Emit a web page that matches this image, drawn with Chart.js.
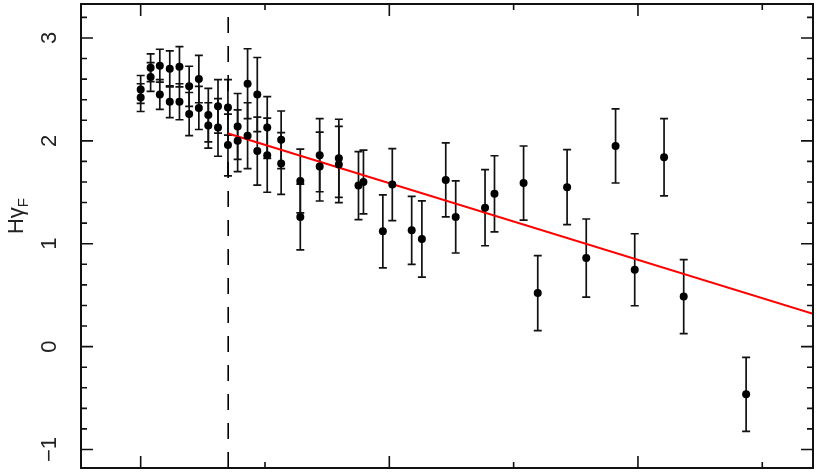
<!DOCTYPE html>
<html>
<head>
<meta charset="utf-8">
<script src="https://cdn.jsdelivr.net/npm/chart.js@4"></script>
<style>
  body { margin: 0; background: #fff; }
  #wrap { width: 817px; height: 472px; }
</style>
</head>
<body>
<div id="wrap"><canvas id="c" width="817" height="472"></canvas></div>
<script>
// measured points (x in arbitrary units, y = H gamma_F)
const xPos = [0, 0, 0.40, 0.40, 0.77, 0.77, 1.17, 1.17, 1.56, 1.56, 1.95, 1.95, 2.34, 2.34, 2.72, 2.72,
  3.11, 3.11, 3.51, 3.51, 3.90, 3.90, 4.30, 4.30, 4.69, 4.69, 5.09, 5.09, 5.65, 5.65, 6.42, 6.42,
  7.20, 7.20, 7.97, 7.97, 8.76, 8.96, 9.74, 10.12, 10.90, 11.31, 12.27, 12.67, 13.85, 14.23,
  15.40, 15.97, 17.15, 17.92, 19.10, 19.87, 21.05, 21.84, 24.35];
const yVal = [2.50, 2.42, 2.71, 2.62, 2.73, 2.45, 2.70, 2.38, 2.72, 2.38, 2.53, 2.26, 2.60, 2.32, 2.25, 2.15,
  2.335, 2.13, 2.325, 1.96, 2.14, 2.00, 2.555, 2.05, 2.45, 1.90, 2.13, 1.86, 2.01, 1.78, 1.61, 1.26,
  1.86, 1.75, 1.83, 1.77, 1.565, 1.60, 1.12, 1.575, 1.13, 1.046, 1.62, 1.26, 1.35, 1.485,
  1.59, 0.52, 1.55, 0.86, 1.95, 0.747, 1.84, 0.486, -0.464];
const yErr = [0.135, 0.135, 0.135, 0.14, 0.16, 0.145, 0.175, 0.155, 0.195, 0.175, 0.195, 0.21, 0.23, 0.21, 0.26, 0.22,
  0.26, 0.28, 0.27, 0.30, 0.32, 0.30, 0.34, 0.32, 0.36, 0.33, 0.30, 0.36, 0.28, 0.30, 0.31, 0.32,
  0.355, 0.335, 0.38, 0.37, 0.33, 0.31, 0.355, 0.35, 0.33, 0.37, 0.36, 0.35, 0.37, 0.37,
  0.36, 0.365, 0.365, 0.38, 0.36, 0.35, 0.375, 0.36, 0.36];

// linear fit and the break
const breakX = 3.52;
const fitX = [3.52, 27.04];
const fitY = [2.071, 0.319];

const xRange = [-2.40, 27.04];
const yRange = [-1.18, 3.33];

const xMajorTicks = [0, 10, 20];
const xMinorTicks = [5, 15, 25];
const yMajorTicks = [-1, 0, 1, 2, 3];
const yMinorTicks = [-0.8, -0.6, -0.4, -0.2, 0.2, 0.4, 0.6, 0.8, 1.2, 1.4, 1.6, 1.8,
  2.2, 2.4, 2.6, 2.8, 3.2];
const yTickLabels = ['\u22121', '0', '1', '2', '3'];

const FONT = '"Liberation Sans", Arial, sans-serif';

const framePlugin = {
    id: 'frame',
    beforeDatasetsDraw(chart) {
        const ctx = chart.ctx;
        const x = chart.scales.x, y = chart.scales.y;
        // error bars
        ctx.save();
        ctx.strokeStyle = '#111';
        ctx.lineWidth = 1.7;
        for (let i = 0; i < xPos.length; i++) {
            const px = x.getPixelForValue(xPos[i]);
            const top = y.getPixelForValue(yVal[i] + yErr[i]);
            const bot = y.getPixelForValue(yVal[i] - yErr[i]);
            ctx.beginPath();
            ctx.moveTo(px, top); ctx.lineTo(px, bot);
            ctx.moveTo(px - 4, top); ctx.lineTo(px + 4, top);
            ctx.moveTo(px - 4, bot); ctx.lineTo(px + 4, bot);
            ctx.stroke();
        }
        ctx.restore();
    },
    afterDraw(chart) {
        const ctx = chart.ctx;
        const a = chart.chartArea;
        const x = chart.scales.x, y = chart.scales.y;
        ctx.save();
        ctx.strokeStyle = '#111';
        ctx.lineWidth = 2;
        ctx.strokeRect(a.left, a.top, a.right - a.left, a.bottom - a.top);

        ctx.lineWidth = 1.6;
        ctx.beginPath();
        const xt = (v, len) => {
            const p = x.getPixelForValue(v);
            ctx.moveTo(p, a.bottom); ctx.lineTo(p, a.bottom - len);
            ctx.moveTo(p, a.top); ctx.lineTo(p, a.top + len);
        };
        const yt = (v, len) => {
            const p = y.getPixelForValue(v);
            ctx.moveTo(a.left, p); ctx.lineTo(a.left + len, p);
            ctx.moveTo(a.right, p); ctx.lineTo(a.right - len, p);
        };
        xMajorTicks.forEach(v => xt(v, 12));
        xMinorTicks.forEach(v => xt(v, 6));
        yMajorTicks.forEach(v => yt(v, 12));
        yMinorTicks.forEach(v => yt(v, 6));
        ctx.stroke();

        // rotated y labels
        ctx.fillStyle = '#222';
        ctx.textAlign = 'center';
        ctx.textBaseline = 'middle';
        ctx.font = '22px ' + FONT;
        yMajorTicks.forEach((v, i) => {
            ctx.save();
            ctx.translate(50, y.getPixelForValue(v));
            ctx.rotate(-Math.PI / 2);
            ctx.fillText(yTickLabels[i], 0, 0);
            ctx.restore();
        });

        // axis title H gamma_F
        ctx.save();
        ctx.translate(16, 216);
        ctx.rotate(-Math.PI / 2);
        ctx.textAlign = 'left';
        ctx.textBaseline = 'alphabetic';
        ctx.font = '22px ' + FONT;
        const main = 'H\u03b3';
        const w = ctx.measureText(main).width;
        ctx.font = '15px ' + FONT;
        const ws = ctx.measureText('F').width;
        const start = -(w + ws) / 2;
        ctx.font = '22px ' + FONT;
        ctx.fillText(main, start, 7);
        ctx.font = '15px ' + FONT;
        ctx.fillText('F', start + w, 12);
        ctx.restore();

        ctx.restore();
    }
};

const ctx = document.getElementById('c').getContext('2d');
new Chart(ctx, {
    type: 'scatter',
    data: {
        datasets: [
            {
                data: xPos.map((v, i) => ({ x: v, y: yVal[i] })),
                backgroundColor: '#000',
                borderColor: '#000',
                pointRadius: 4,
                pointBorderWidth: 0
            },
            {
                type: 'line',
                data: fitX.map((v, i) => ({ x: v, y: fitY[i] })),
                borderColor: '#ff0000',
                borderWidth: 2,
                pointRadius: 0,
                fill: false
            },
            {
                type: 'line',
                data: [{ x: breakX, y: yRange[0] }, { x: breakX, y: yRange[1] }],
                borderColor: '#000',
                borderWidth: 1.6,
                borderDash: [16, 13],
                pointRadius: 0,
                fill: false
            }
        ]
    },
    options: {
        responsive: false,
        animation: false,
        layout: { padding: { left: 81, right: 3, top: 2, bottom: 3 } },
        plugins: { legend: { display: false }, tooltip: { enabled: false } },
        scales: {
            x: { type: 'linear', min: xRange[0], max: xRange[1], display: false },
            y: { type: 'linear', min: yRange[0], max: yRange[1], display: false }
        }
    },
    plugins: [framePlugin]
});
</script>
</body>
</html>
